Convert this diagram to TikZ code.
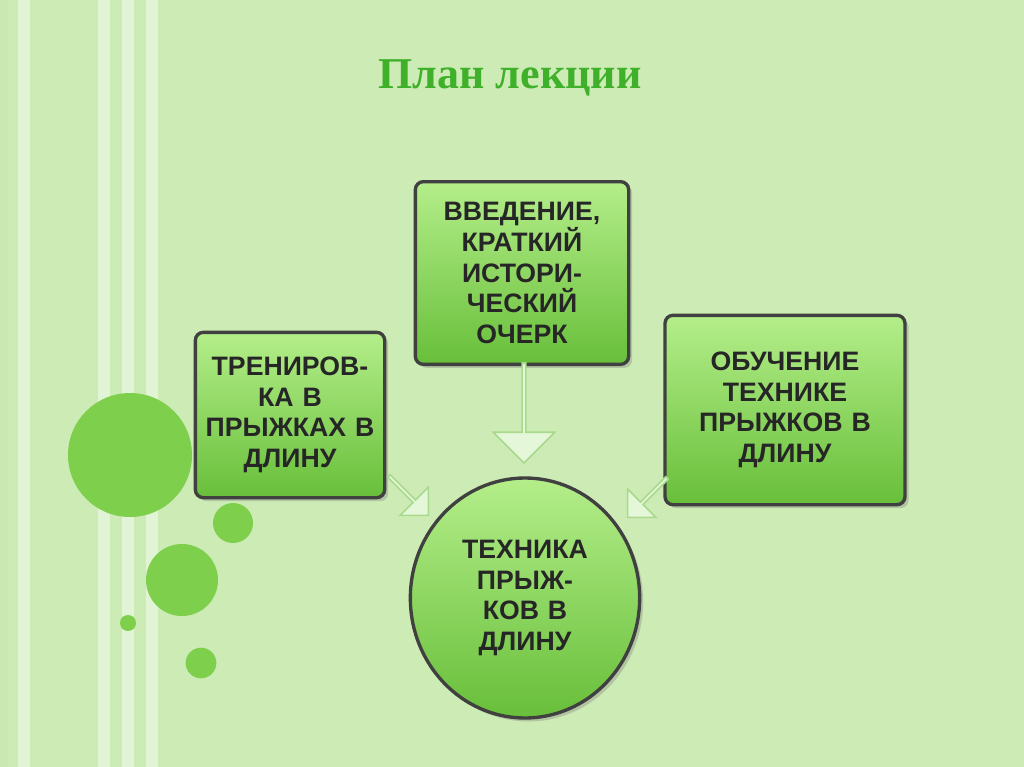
\documentclass[tikz,border=0pt]{standalone}
\usepackage{fontspec}
\setmainfont{Liberation Sans}
\newfontfamily\titlefont{Liberation Serif}
\usetikzlibrary{shapes.arrows,shapes.geometric,shadows}
\definecolor{bgGreen}{HTML}{CDEBB5}
\definecolor{stripe}{HTML}{E2F4D6}
\definecolor{dotGreen}{HTML}{7DCF4C}
\definecolor{boxTop}{HTML}{B4EE8A}
\definecolor{boxBot}{HTML}{68BF3A}
\definecolor{arrowFill}{HTML}{E4F7D8}
\definecolor{arrowLine}{HTML}{A9D98C}
\definecolor{titleGreen}{HTML}{3FB02A}
\tikzset{
  planbox/.style={draw=black!75, line width=2.5pt, rounded corners=6pt,
    top color=boxTop, bottom color=boxBot, align=center,
    font=\bfseries\fontsize{20}{23}\selectfont, text=black!85,
    drop shadow={opacity=0.35}},
  blockarrow/.style={single arrow, draw=arrowLine, fill=arrowFill, line width=1.2pt,
    minimum height=#1, single arrow head extend=9pt, minimum width=46pt, inner sep=0pt},
  dot/.style={circle, fill=dotGreen, inner sep=0pt}
}
\begin{document}
\begin{tikzpicture}[x=0.75pt,y=-0.75pt]
  \useasboundingbox (0,0) rectangle (1024,767);
  \fill[bgGreen] (0,0) rectangle (1024,767);
  % stripes on the left
  \foreach \a/\b in {18/30,98/110,122/134,146/158}
    \fill[stripe] (\a,0) rectangle (\b,767);
  \fill[bgGreen!85!black!10!bgGreen] (0,0) rectangle (8,767);
  % decorative dots
  \node[dot, minimum size=93pt] (d1) at (130,455) {};
  \node[dot, minimum size=30pt] (d2) at (233,523) {};
  \node[dot, minimum size=54pt] (d3) at (182,580) {};
  \node[dot, minimum size=12pt] (d4) at (128,623) {};
  \node[dot, minimum size=23pt] (d5) at (201,663) {};

  \node[font=\titlefont\bfseries\fontsize{33}{36}\selectfont, text=titleGreen,
        draw=none] (title) at (510,78) {План лекции};

  \node[planbox, minimum width=160pt, minimum height=137pt, text width=145pt] (intro)
    at (522,273) {ВВЕДЕНИЕ,\\КРАТКИЙ\\ИСТОРИ-\\ЧЕСКИЙ\\ОЧЕРК};
  \node[planbox, minimum width=142pt, minimum height=124pt, text width=130pt] (train)
    at (290,415) {ТРЕНИРОВ-\\КА В\\ПРЫЖКАХ В\\ДЛИНУ};
  \node[planbox, minimum width=180pt, minimum height=142pt, text width=165pt] (teach)
    at (785,410) {ОБУЧЕНИЕ\\ТЕХНИКЕ\\ПРЫЖКОВ В\\ДЛИНУ};
  \node[planbox, ellipse, minimum width=172pt, minimum height=180pt, text width=120pt,
        inner sep=0pt] (tech)
    at (525,598) {ТЕХНИКА\\ПРЫЖ-\\КОВ В\\ДЛИНУ};

  \node[blockarrow=75pt, rotate=-90] (a1) at (524,412) {};
  \node[blockarrow=42pt, rotate=-45, minimum width=30pt, single arrow head extend=6pt]
    (a2) at (408,495) {};
  \node[blockarrow=42pt, rotate=-135, minimum width=30pt, single arrow head extend=6pt]
    (a3) at (648,497) {};
\end{tikzpicture}
\end{document}
